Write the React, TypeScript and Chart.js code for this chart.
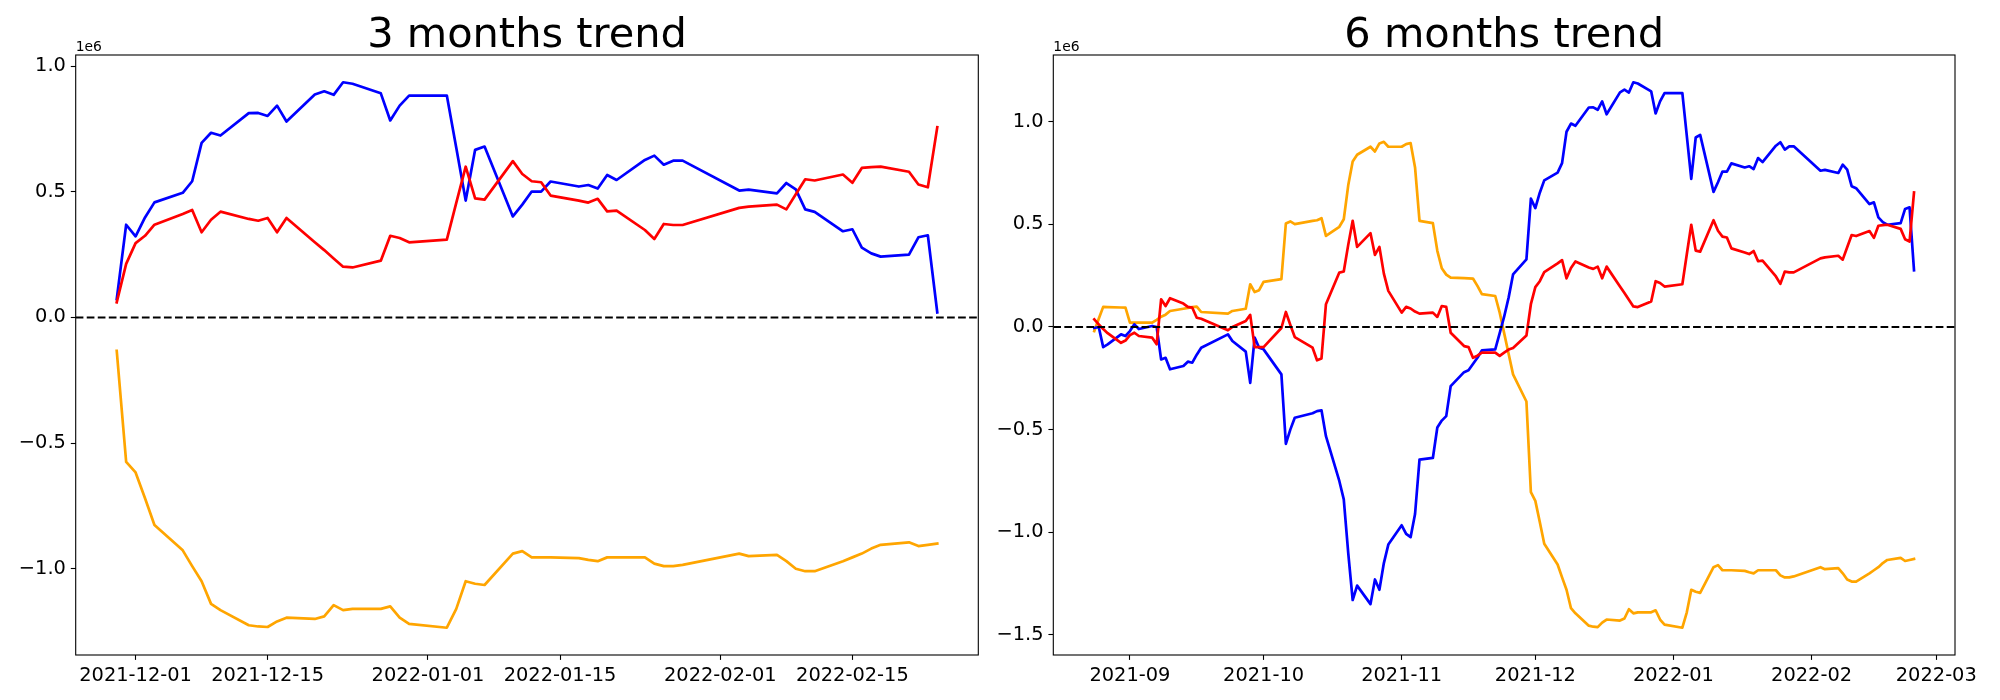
import React, { useEffect, useRef } from 'react';
import { Chart, registerables } from 'chart.js';

Chart.register(...registerables);
Chart.defaults.font.family = '"DejaVu Sans", sans-serif';

const LEFT_TITLE = '3 months trend';
const RIGHT_TITLE = '6 months trend';
const OFFSET_LABEL = '1e6';

const LEFT_DATES = [
  '2021-11-29','2021-11-30','2021-12-01','2021-12-02','2021-12-03',
  '2021-12-06','2021-12-07','2021-12-08','2021-12-09','2021-12-10',
  '2021-12-13','2021-12-14','2021-12-15','2021-12-16','2021-12-17',
  '2021-12-20','2021-12-21','2021-12-22','2021-12-23','2021-12-24',
  '2021-12-27','2021-12-28','2021-12-29','2021-12-30',
  '2022-01-03','2022-01-04','2022-01-05','2022-01-06','2022-01-07',
  '2022-01-10','2022-01-11','2022-01-12','2022-01-13','2022-01-14',
  '2022-01-17','2022-01-18','2022-01-19','2022-01-20','2022-01-21',
  '2022-01-24','2022-01-25','2022-01-26','2022-01-27','2022-01-28',
  '2022-02-03','2022-02-04',
  '2022-02-07','2022-02-08','2022-02-09','2022-02-10','2022-02-11',
  '2022-02-14','2022-02-15','2022-02-16','2022-02-17','2022-02-18',
  '2022-02-21','2022-02-22','2022-02-23','2022-02-24',
];
const LEFT_BLUE = [
  0.073, 0.369, 0.323, 0.398, 0.458,
  0.496, 0.542, 0.695, 0.735, 0.724,
  0.813, 0.814, 0.802, 0.843, 0.780,
  0.887, 0.900, 0.886, 0.936, 0.930,
  0.892, 0.784, 0.843, 0.883,
  0.883, 0.675, 0.465, 0.667, 0.680,
  0.402, 0.449, 0.501, 0.501, 0.541,
  0.521, 0.527, 0.513, 0.567, 0.547,
  0.627, 0.644, 0.608, 0.624, 0.624,
  0.505, 0.509,
  0.494, 0.535, 0.510, 0.430, 0.420,
  0.343, 0.351, 0.278, 0.255, 0.242,
  0.250, 0.319, 0.327, 0.020,
];
const LEFT_RED = [
  0.060, 0.213, 0.296, 0.325, 0.369,
  0.412, 0.428, 0.339, 0.389, 0.421,
  0.392, 0.385, 0.396, 0.339, 0.396,
  0.299, 0.268, 0.235, 0.202, 0.199,
  0.226, 0.325, 0.316, 0.299,
  0.310, 0.456, 0.600, 0.474, 0.469,
  0.622, 0.571, 0.542, 0.538, 0.485,
  0.465, 0.457, 0.472, 0.422, 0.425,
  0.348, 0.312, 0.372, 0.368, 0.368,
  0.436, 0.441,
  0.449, 0.430, 0.490, 0.550, 0.545,
  0.569, 0.536, 0.595, 0.598, 0.600,
  0.580, 0.529, 0.518, 0.757,
];
const LEFT_ORANGE = [
  -0.133, -0.575, -0.617, -0.720, -0.826,
  -0.927, -0.990, -1.050, -1.140, -1.165,
  -1.225, -1.230, -1.232, -1.210, -1.195,
  -1.200, -1.190, -1.145, -1.165, -1.160,
  -1.160, -1.150, -1.195, -1.220,
  -1.235, -1.160, -1.050, -1.060, -1.065,
  -0.940, -0.930, -0.955, -0.955, -0.955,
  -0.958, -0.965, -0.970, -0.955, -0.955,
  -0.955, -0.980, -0.990, -0.990, -0.985,
  -0.940, -0.950,
  -0.945, -0.970, -1.000, -1.010, -1.010,
  -0.970, -0.955, -0.940, -0.920, -0.905,
  -0.895, -0.910, -0.905, -0.900,
];
const LEFT_XTICKS = ['2021-12-01', '2021-12-15', '2022-01-01', '2022-01-15', '2022-02-01', '2022-02-15'];
const LEFT_YTICKS = [-1.0, -0.5, 0.0, 0.5, 1.0];

const RIGHT_DATES = [
  '2021-08-24','2021-08-25','2021-08-26','2021-08-27','2021-08-30','2021-08-31',
  '2021-09-01','2021-09-02','2021-09-03','2021-09-06','2021-09-07','2021-09-08','2021-09-09','2021-09-10',
  '2021-09-13','2021-09-14','2021-09-15','2021-09-16','2021-09-17',
  '2021-09-23','2021-09-24','2021-09-27','2021-09-28','2021-09-29','2021-09-30',
  '2021-10-01','2021-10-05','2021-10-06','2021-10-07','2021-10-08',
  '2021-10-12','2021-10-13','2021-10-14','2021-10-15',
  '2021-10-18','2021-10-19','2021-10-20','2021-10-21','2021-10-22',
  '2021-10-25','2021-10-26','2021-10-27','2021-10-28','2021-10-29',
  '2021-11-01','2021-11-02','2021-11-03','2021-11-04','2021-11-05',
  '2021-11-08','2021-11-09','2021-11-10','2021-11-11','2021-11-12',
  '2021-11-15','2021-11-16','2021-11-17','2021-11-18','2021-11-19',
  '2021-11-22','2021-11-23','2021-11-24','2021-11-25','2021-11-26',
  '2021-11-29','2021-11-30','2021-12-01','2021-12-02','2021-12-03',
  '2021-12-06','2021-12-07','2021-12-08','2021-12-09','2021-12-10',
  '2021-12-13','2021-12-14','2021-12-15','2021-12-16','2021-12-17',
  '2021-12-20','2021-12-21','2021-12-22','2021-12-23','2021-12-24',
  '2021-12-27','2021-12-28','2021-12-29','2021-12-30',
  '2022-01-03','2022-01-04','2022-01-05','2022-01-06','2022-01-07',
  '2022-01-10','2022-01-11','2022-01-12','2022-01-13','2022-01-14',
  '2022-01-17','2022-01-18','2022-01-19','2022-01-20','2022-01-21',
  '2022-01-24','2022-01-25','2022-01-26','2022-01-27','2022-01-28',
  '2022-02-03','2022-02-04',
  '2022-02-07','2022-02-08','2022-02-09','2022-02-10','2022-02-11',
  '2022-02-14','2022-02-15','2022-02-16','2022-02-17','2022-02-18',
  '2022-02-21','2022-02-22','2022-02-23','2022-02-24',
];
const RIGHT_BLUE = [
  -0.005, 0.000, -0.098, -0.085, -0.036, -0.044,
  -0.020, 0.013, -0.010, 0.005, 0.000, -0.158, -0.150, -0.206,
  -0.190, -0.169, -0.174, -0.135, -0.101,
  -0.036, -0.068, -0.120, -0.272, -0.052, -0.101,
  -0.109, -0.231, -0.569, -0.500, -0.442,
  -0.420, -0.410, -0.406, -0.532,
  -0.750, -0.840, -1.100, -1.330, -1.260,
  -1.350, -1.230, -1.280, -1.150, -1.060,
  -0.966, -1.008, -1.024, -0.911, -0.646,
  -0.638, -0.490, -0.456, -0.434, -0.288,
  -0.220, -0.211, -0.180, -0.150, -0.114,
  -0.109, -0.030, 0.050, 0.143, 0.256,
  0.329, 0.625, 0.579, 0.654, 0.714,
  0.752, 0.798, 0.951, 0.991, 0.980,
  1.069, 1.070, 1.058, 1.099, 1.036,
  1.143, 1.156, 1.142, 1.192, 1.186,
  1.148, 1.040, 1.099, 1.139,
  1.139, 0.931, 0.721, 0.923, 0.936,
  0.658, 0.705, 0.757, 0.757, 0.797,
  0.777, 0.783, 0.769, 0.823, 0.803,
  0.883, 0.900, 0.864, 0.880, 0.880,
  0.761, 0.765,
  0.750, 0.791, 0.766, 0.686, 0.676,
  0.599, 0.607, 0.534, 0.511, 0.498,
  0.506, 0.575, 0.583, 0.276,
];
const RIGHT_RED = [
  0.037, 0.013, -0.010, -0.030, -0.077, -0.066,
  -0.040, -0.028, -0.044, -0.052, -0.084, 0.135, 0.102, 0.140,
  0.114, 0.098, 0.094, 0.045, 0.040,
  -0.016, 0.000, 0.029, 0.059, -0.098, -0.098,
  -0.098, -0.005, 0.073, 0.010, -0.049,
  -0.101, -0.162, -0.153, 0.111,
  0.265, 0.270, 0.400, 0.517, 0.390,
  0.457, 0.351, 0.390, 0.260, 0.176,
  0.070, 0.098, 0.090, 0.075, 0.065,
  0.070, 0.049, 0.102, 0.098, -0.028,
  -0.093, -0.098, -0.150, -0.140, -0.125,
  -0.125, -0.141, -0.125, -0.110, -0.102,
  -0.042, 0.111, 0.194, 0.223, 0.267,
  0.310, 0.326, 0.237, 0.287, 0.319,
  0.290, 0.283, 0.294, 0.237, 0.294,
  0.197, 0.166, 0.133, 0.100, 0.097,
  0.124, 0.223, 0.214, 0.197,
  0.208, 0.354, 0.498, 0.372, 0.367,
  0.520, 0.469, 0.440, 0.436, 0.383,
  0.363, 0.355, 0.370, 0.320, 0.323,
  0.246, 0.210, 0.270, 0.266, 0.266,
  0.334, 0.339,
  0.347, 0.328, 0.388, 0.448, 0.443,
  0.467, 0.434, 0.493, 0.496, 0.498,
  0.478, 0.427, 0.416, 0.655,
];
const RIGHT_ORANGE = [
  -0.020, 0.040, 0.098, 0.097, 0.095, 0.094,
  0.021, 0.021, 0.021, 0.021, 0.035, 0.050, 0.060, 0.078,
  0.089, 0.093, 0.097, 0.099, 0.073,
  0.065, 0.078, 0.089, 0.208, 0.170, 0.179,
  0.220, 0.233, 0.504, 0.514, 0.501,
  0.517, 0.520, 0.530, 0.444,
  0.488, 0.525, 0.690, 0.806, 0.839,
  0.878, 0.855, 0.894, 0.902, 0.878,
  0.878, 0.891, 0.896, 0.777, 0.517,
  0.506, 0.371, 0.286, 0.255, 0.240,
  0.238, 0.237, 0.236, 0.200, 0.160,
  0.151, 0.070, -0.030, -0.130, -0.231,
  -0.363, -0.805, -0.847, -0.950, -1.056,
  -1.157, -1.220, -1.280, -1.370, -1.395,
  -1.455, -1.460, -1.462, -1.440, -1.425,
  -1.430, -1.420, -1.375, -1.395, -1.390,
  -1.390, -1.380, -1.425, -1.450,
  -1.465, -1.390, -1.280, -1.290, -1.295,
  -1.170, -1.160, -1.185, -1.185, -1.185,
  -1.188, -1.195, -1.200, -1.185, -1.185,
  -1.185, -1.210, -1.220, -1.220, -1.215,
  -1.170, -1.180,
  -1.175, -1.200, -1.230, -1.240, -1.240,
  -1.200, -1.185, -1.170, -1.150, -1.135,
  -1.125, -1.140, -1.135, -1.130,
];
const RIGHT_XTICKS = ['2021-09', '2021-10', '2021-11', '2021-12', '2022-01', '2022-02', '2022-03'];
const RIGHT_YTICKS = [-1.5, -1.0, -0.5, 0.0, 0.5, 1.0];

const BLUE = '#0000ff';
const RED = '#ff0000';
const ORANGE = '#ffa500';
const TICK_FONT = 19.4;
const LINE_W = 2.7;
const ZERO_W = 2.1;

function dayNum(s: string): number {
  const p = s.split('-').map(Number);
  return Date.UTC(p[0], p[1] - 1, p[2] || 1) / 86400000;
}

function fmtY(v: number): string {
  const s = Math.abs(v).toFixed(1);
  return v < 0 ? '\u2212' + s : s;
}

const decorPlugin = {
  id: 'decor',
  afterDatasetsDraw(chart: any) {
    const { ctx, chartArea: a, scales } = chart;
    const y0 = scales.y.getPixelForValue(0);
    ctx.save();
    ctx.beginPath();
    ctx.rect(a.left, a.top, a.right - a.left, a.bottom - a.top);
    ctx.clip();
    ctx.setLineDash([7.7, 3.33]);
    ctx.lineWidth = ZERO_W;
    ctx.strokeStyle = '#000';
    ctx.beginPath();
    ctx.moveTo(a.left, y0);
    ctx.lineTo(a.right, y0);
    ctx.stroke();
    ctx.restore();
  },
  afterDraw(chart: any, _args: any, opts: any) {
    const { ctx, chartArea: a } = chart;
    ctx.save();
    ctx.strokeStyle = '#000';
    ctx.lineWidth = 1.1;
    ctx.strokeRect(a.left, a.top, a.right - a.left, a.bottom - a.top);
    ctx.fillStyle = '#000';
    ctx.textBaseline = 'alphabetic';
    ctx.textAlign = 'center';
    ctx.font = '41.5px "DejaVu Sans", sans-serif';
    ctx.fillText(opts.title, (a.left + a.right) / 2, a.top - 8.5);
    ctx.textAlign = 'left';
    ctx.font = '13.9px "DejaVu Sans", sans-serif';
    ctx.fillText(OFFSET_LABEL, a.left, a.top - 4.5);
    ctx.restore();
  },
};

interface Spec {
  title: string;
  dates: string[];
  blue: number[];
  red: number[];
  orange: number[];
  xticks: string[];
  yticks: number[];
  yAxisWidth: number;
  padRight: number;
}

function buildConfig(p: Spec): any {
  const xs = p.dates.map(dayNum);
  const pts = (vals: number[]) => vals.map((v, i) => ({ x: xs[i], y: v }));
  const xmin0 = Math.min(...xs);
  const xmax0 = Math.max(...xs);
  const xm = (xmax0 - xmin0) * 0.05;
  const all = [...p.blue, ...p.red, ...p.orange];
  const ymin0 = Math.min(...all);
  const ymax0 = Math.max(...all);
  const ym = (ymax0 - ymin0) * 0.05;
  const tickVals = p.xticks.map(dayNum);
  const ds = (data: number[], color: string) => ({
    data: pts(data),
    borderColor: color,
    backgroundColor: color,
    borderWidth: LINE_W,
    pointRadius: 0,
    pointHoverRadius: 0,
    fill: false,
    tension: 0,
    borderJoinStyle: 'round',
    borderCapStyle: 'square',
  });
  const grid = {
    display: true,
    drawOnChartArea: false,
    drawTicks: true,
    tickLength: 4.9,
    tickWidth: 1.1,
    tickColor: '#000',
  };
  return {
    type: 'line',
    data: {
      datasets: [ds(p.red, RED), ds(p.blue, BLUE), ds(p.orange, ORANGE)],
    },
    options: {
      responsive: false,
      animation: false,
      events: [],
      layout: { padding: { top: 55, left: 0, right: p.padRight, bottom: 0 } },
      plugins: {
        legend: { display: false },
        tooltip: { enabled: false },
        title: { display: false },
        decor: { title: p.title },
      },
      scales: {
        x: {
          type: 'linear',
          min: xmin0 - xm,
          max: xmax0 + xm,
          afterBuildTicks: (s: any) => {
            s.ticks = tickVals.map((v) => ({ value: v }));
          },
          afterFit: (s: any) => {
            s.height = 45;
          },
          ticks: {
            autoSkip: false,
            maxRotation: 0,
            minRotation: 0,
            padding: 4.9,
            color: '#000',
            font: { size: TICK_FONT },
            callback: (_v: any, i: number) => p.xticks[i],
          },
          grid,
          border: { display: false },
        },
        y: {
          type: 'linear',
          min: ymin0 - ym,
          max: ymax0 + ym,
          afterBuildTicks: (s: any) => {
            s.ticks = p.yticks.map((v) => ({ value: v }));
          },
          afterFit: (s: any) => {
            s.width = p.yAxisWidth;
          },
          ticks: {
            autoSkip: false,
            padding: 4.9,
            color: '#000',
            font: { size: TICK_FONT },
            callback: (v: any) => fmtY(Number(v)),
          },
          grid,
          border: { display: false },
        },
      },
    },
    plugins: [decorPlugin],
  };
}

function ChartBox({ spec, left, width }: { spec: Spec; left: number; width: number }) {
  const ref = useRef<HTMLCanvasElement>(null);
  useEffect(() => {
    if (!ref.current) return;
    const chart = new Chart(ref.current, buildConfig(spec));
    return () => chart.destroy();
  }, []);
  return (
    <canvas
      ref={ref}
      width={width}
      height={700}
      style={{ position: 'absolute', left, top: 0, width, height: 700 }}
    />
  );
}

const LEFT_SPEC: Spec = {
  title: LEFT_TITLE,
  dates: LEFT_DATES,
  blue: LEFT_BLUE,
  red: LEFT_RED,
  orange: LEFT_ORANGE,
  xticks: LEFT_XTICKS,
  yticks: LEFT_YTICKS,
  yAxisWidth: 75.7,
  padRight: 21.7,
};

const RIGHT_SPEC: Spec = {
  title: RIGHT_TITLE,
  dates: RIGHT_DATES,
  blue: RIGHT_BLUE,
  red: RIGHT_RED,
  orange: RIGHT_ORANGE,
  xticks: RIGHT_XTICKS,
  yticks: RIGHT_YTICKS,
  yAxisWidth: 93.3,
  padRight: 45,
};

export default function App() {
  return (
    <div
      style={{
        position: 'absolute',
        left: 0,
        top: 0,
        width: 2000,
        height: 700,
        background: '#fff',
        overflow: 'hidden',
      }}
    >
      <ChartBox spec={LEFT_SPEC} left={0} width={1000} />
      <ChartBox spec={RIGHT_SPEC} left={960} width={1040} />
    </div>
  );
}
